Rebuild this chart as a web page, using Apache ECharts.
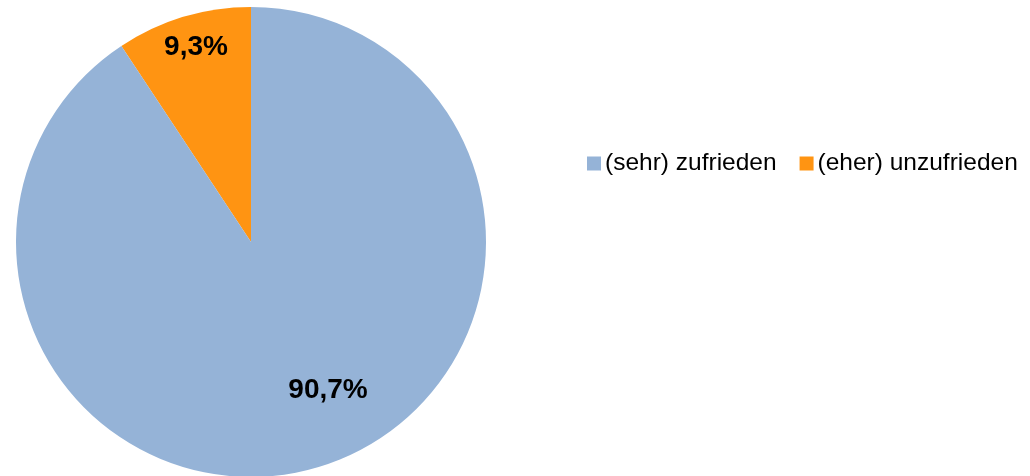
<!DOCTYPE html>
<html>
<head>
<meta charset="utf-8">
<script src="https://cdn.jsdelivr.net/npm/echarts@6/dist/echarts.min.js"></script>
<style>
  html, body { margin: 0; padding: 0; background: #fff; }
  #chart { width: 1030px; height: 476px; }
</style>
</head>
<body>
<div id="chart"></div>
<script>
// Anteile (in %)
const categories = ['(eher) unzufrieden', '(sehr) zufrieden']
const values = [9.3, 90.7]
const colors = ['#FF9412', '#95B3D7']
const legendOrder = ['(sehr) zufrieden', '(eher) unzufrieden']

const chart = echarts.init(document.getElementById('chart'))

// Label-Positionen wie im Original (Excel "beste Anpassung")
const labelPos = [[196, 47], [328, 390]]

const option = {
  animation: false,
  legend: {
    data: legendOrder,
    orient: 'horizontal',
    left: 587,
    top: 151,
    width: 443,
    padding: 0,
    icon: 'rect',
    itemWidth: 14,
    itemHeight: 14,
    itemGap: 23,
    textStyle: {
      fontFamily: 'Liberation Sans, Arial, sans-serif',
      fontSize: 24.5,
      color: '#000',
      padding: [0, 0, 0, -1]
    }
  },
  series: [
    {
      type: 'pie',
      center: [251, 242],
      radius: 235,
      startAngle: 90,
      clockwise: false,
      data: categories.map((c, i) => ({
        name: c,
        value: values[i],
        itemStyle: { color: colors[i] }
      })),
      label: {
        show: true,
        position: 'inside',
        formatter: p => p.value.toFixed(1).replace('.', ',') + '%',
        fontFamily: 'Liberation Sans, Arial, sans-serif',
        fontWeight: 'bold',
        fontSize: 28,
        color: '#000'
      },
      labelLine: { show: false },
      labelLayout: p => ({
        x: labelPos[p.dataIndex][0],
        y: labelPos[p.dataIndex][1],
        align: 'center',
        verticalAlign: 'middle'
      }),
      emphasis: { disabled: true }
    }
  ]
}

chart.setOption(option)
</script>
</body>
</html>
